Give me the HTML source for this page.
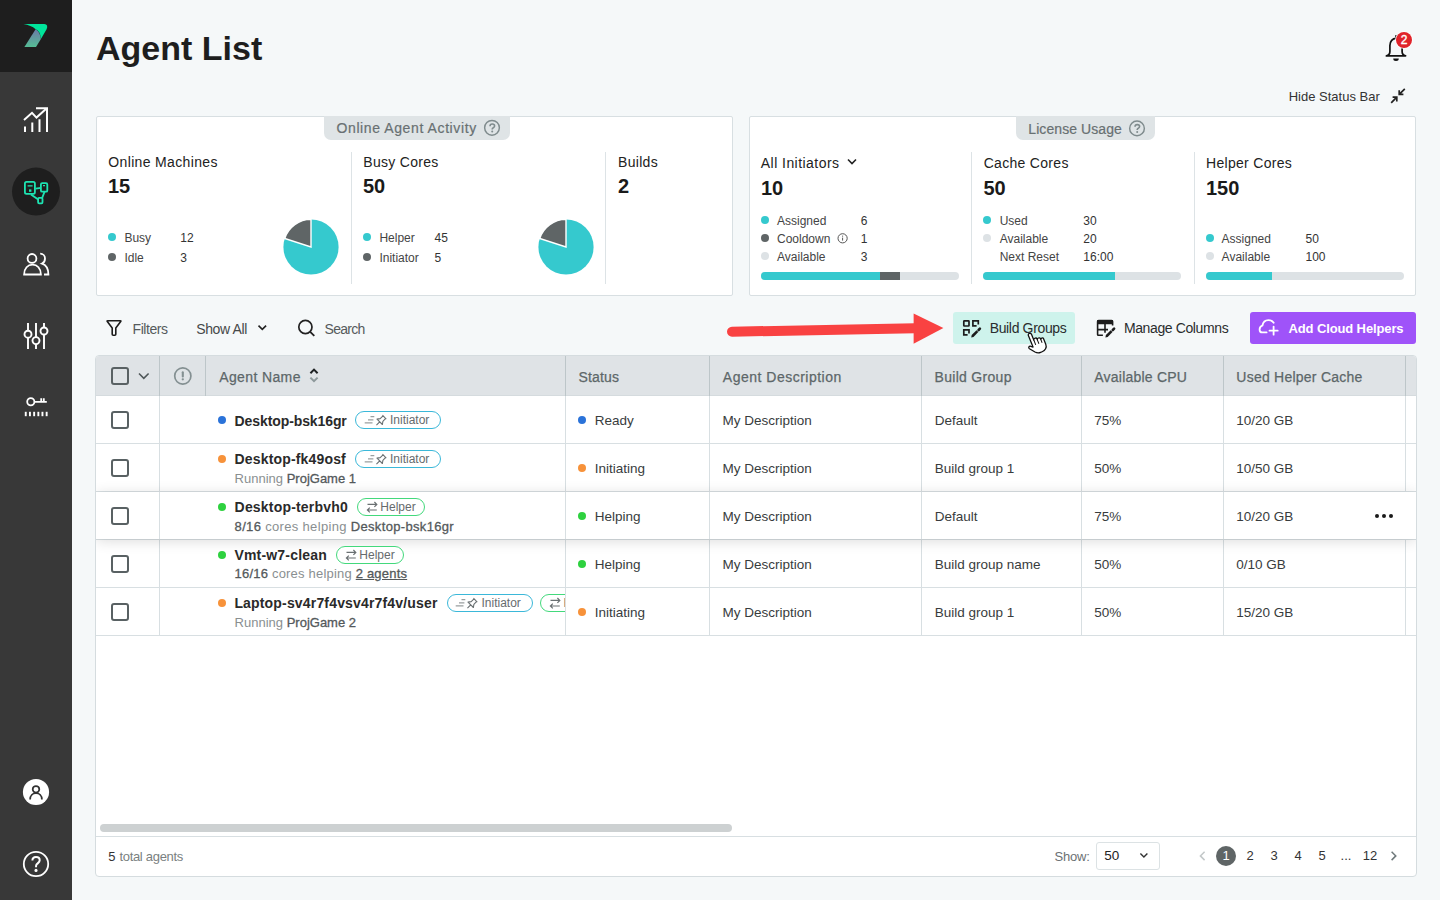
<!DOCTYPE html>
<html><head><meta charset="utf-8"><title>Agent List</title>
<style>
*{margin:0;padding:0;box-sizing:border-box}
html,body{width:1440px;height:900px;overflow:hidden}
body{background:#f5f8f9;font-family:"Liberation Sans",sans-serif;position:relative;color:#222}
.a{position:absolute}
.t{position:absolute;white-space:nowrap;line-height:1}
.card{position:absolute;background:#fff;border:1px solid #d8dfe2;border-radius:2px}
.tab{position:absolute;background:#dfe4e6;border-radius:0 0 7px 7px}
.vd{position:absolute;width:1px;background:#dde3e6}
.dot{position:absolute;width:8px;height:8px;border-radius:50%}
.bar{position:absolute;height:8px;border-radius:4px;background:#dde2e5;overflow:hidden}
.bar i{position:absolute;top:0;height:8px}
.cb{position:absolute;width:18px;height:18px;border:2px solid #596163;border-radius:3px}
.th{font-size:14px;color:#5d6769;-webkit-text-stroke:0.25px #5d6769;letter-spacing:0.15px}
.td{font-size:13.5px;color:#383c3d}
.nm{font-size:14px;font-weight:bold;color:#2a2a2a;letter-spacing:0.1px}
.sub{font-size:13px;color:#5c6264}
.sub .lt{color:#8a8f91}
.sub b{font-weight:normal;color:#54595b;-webkit-text-stroke:0.3px #54595b}
.bdg{position:absolute;height:18px;border-radius:9px;border:1px solid;display:flex;align-items:center;font-size:12px;color:#666b6d;white-space:nowrap;background:#fff}
.bdg.ini{border-color:#3bb8d9;padding-left:7.5px}
.bdg.hlp{border-color:#43d97c;padding-left:7.8px}
.bdg svg{flex:none}
.bdg span{margin-left:0.5px;line-height:1}
.pg{top:849.4px;width:20px;text-align:center;font-size:13px;color:#333}
</style></head>
<body>
<!-- SIDEBAR -->
<div class="a" style="left:0;top:0;width:72px;height:900px;background:#383838"></div>
<div class="a" style="left:0;top:0;width:72px;height:72px;background:#1e1e1e"></div>
<svg class="a" style="left:0;top:0" width="72" height="900" viewBox="0 0 72 900">
<defs><linearGradient id="lg" x1="0" y1="0" x2="0" y2="1"><stop offset="0" stop-color="#6d7aa8"/><stop offset="1" stop-color="#55bd95"/></linearGradient></defs>
<!-- logo -->
<path d="M35.6,29.2 Q40,31.5 40.9,39 L36,47 L24.4,47 Z" fill="url(#lg)"/>
<path d="M23.5,24 L44.3,24 Q48.6,24.6 46.6,29.2 L40.9,39 Q40.4,31 35.6,29.2 Q31,25.2 23.5,24 Z" fill="#00e59b"/>
<!-- chart -->
<g stroke="#fff" stroke-width="2" fill="none">
<path d="M25,126.5V132M32.3,122.5V132M39.5,119.3V132M47,107.6V132M36,108.2H48"/>
<path d="M24,120L32,112.8L36.5,117.6L46.5,108.6" stroke-linejoin="miter"/>
</g>
<!-- active circle -->
<circle cx="36" cy="191.6" r="24" fill="#1e1e1e"/>
<g stroke="#1de4b2" stroke-width="1.8" fill="none">
<rect x="24.9" y="181.9" width="10" height="12" rx="1.6"/>
<rect x="40.9" y="183.1" width="6.4" height="8.6" rx="1.3"/>
<rect x="38.1" y="197.9" width="4.4" height="5.4" rx="1"/>
<path d="M35.5,188.6L40.9,187.8M31,194.5L38.2,199.6M44.6,191.6L42.2,197.9"/>
<path d="M27.6,185.8H32.6M43,185.6H45" stroke-width="1.3"/>
</g>
<rect x="29" y="189.4" width="2.4" height="2.4" fill="#1de4b2"/>
<!-- users -->
<g stroke="#fff" stroke-width="1.8" fill="none">
<circle cx="32" cy="258.4" r="4.4"/>
<path d="M24.1,274.5C24.1,268.4 27.8,264.6 32.5,264.6C37.2,264.6 40.9,268.4 40.9,274.5Z"/>
<path d="M40.2,253.6C43,253.6 45,255.8 45,258.4C45,261 43.6,262.8 42,263.6C45.6,264.8 48.4,268.4 48.4,274.5H44"/>
</g>
<!-- sliders -->
<g stroke="#fff" stroke-width="1.9" fill="#383838">
<path d="M28,323V349M36,323V349M44,323V349"/>
<circle cx="28" cy="334.2" r="3.5"/>
<circle cx="36" cy="340.6" r="3.5"/>
<circle cx="44" cy="331" r="3.5"/>
</g>
<!-- key -->
<g stroke="#fff" stroke-width="1.8" fill="none">
<circle cx="30.8" cy="401.8" r="3.6"/>
<path d="M34.4,401.8H46.8M41.2,398.2V401.8M43.8,398.2V401.8"/>
</g>
<g fill="#fff">
<rect x="24.8" y="411.8" width="1.9" height="4.4"/><rect x="29" y="411.8" width="1.9" height="4.4"/><rect x="33.2" y="411.8" width="1.9" height="4.4"/>
<rect x="37.4" y="411.8" width="1.9" height="4.4"/><rect x="41.5" y="411.8" width="1.9" height="4.4"/><rect x="45.7" y="411.8" width="1.9" height="4.4"/>
</g>
<!-- user -->
<circle cx="36" cy="792" r="13.1" fill="#fff"/>
<g stroke="#333" stroke-width="1.75" fill="none">
<circle cx="36" cy="789.3" r="3.3"/>
<path d="M30.1,799.6C30.1,795.6 32.8,793.2 36,793.2C39.2,793.2 41.9,795.6 41.9,799.6"/>
</g>
<!-- help -->
<circle cx="36" cy="864" r="12.2" stroke="#fff" stroke-width="1.8" fill="none"/>
<path d="M32.4,860.6C32.4,858.4 34,857.1 36,857.1C38.1,857.1 39.7,858.4 39.7,860.3C39.7,862.4 37.6,863.2 36.6,864.4C36.1,865 36,865.8 36,867.2" stroke="#fff" stroke-width="2" fill="none"/>
<circle cx="36" cy="870.4" r="1.55" fill="#fff"/>
</svg>

<!-- HEADER -->
<div class="t" style="left:96px;top:31.4px;font-size:34px;font-weight:bold;color:#1e1e1e">Agent List</div>

<!-- STATUS CARDS -->
<div class="card" style="left:96px;top:116px;width:637px;height:180px"></div>
<div class="card" style="left:749px;top:116px;width:667px;height:180px"></div>
<!-- card 1 -->
<div class="tab" style="left:324px;top:116px;width:186px;height:24px"></div>
<div class="t" style="left:336.5px;top:121.4px;font-size:14px;color:#687072;-webkit-text-stroke:0.2px #687072;letter-spacing:0.6px">Online Agent Activity</div>
<svg class="a" style="left:482px;top:118px" width="20" height="20" viewBox="0 0 20 20"><g transform="translate(10.0,9.8)"><circle cx="0" cy="0" r="7.35" fill="none" stroke="#7f8b8d" stroke-width="1.45"/><path d="M-2,-1.6C-2,-3 -1,-3.8 0.3,-3.8C1.6,-3.8 2.6,-3 2.6,-1.8C2.6,-0.5 1.2,-0.1 0.5,0.6C0.2,1 0.2,1.3 0.2,1.6" fill="none" stroke="#7f8b8d" stroke-width="1.6"/><circle cx="0.2" cy="3.6" r="1" fill="#7f8b8d"/></g></svg>

<div class="t" style="left:108.3px;top:155.1px;font-size:14px;letter-spacing:0.35px">Online Machines</div>
<div class="t" style="left:108px;top:175.8px;font-size:20px;font-weight:bold;color:#1a1a1a">15</div>
<div class="dot" style="left:108px;top:233px;background:#35c9ce"></div>
<div class="t" style="left:124.4px;top:231.8px;font-size:12px;color:#444">Busy</div>
<div class="t" style="left:180.3px;top:231.8px;font-size:12px;color:#333">12</div>
<div class="dot" style="left:108px;top:253px;background:#5f6566"></div>
<div class="t" style="left:124.4px;top:251.8px;font-size:12px;color:#444">Idle</div>
<div class="t" style="left:180.3px;top:251.8px;font-size:12px;color:#333">3</div>
<svg class="a" style="left:281px;top:217px" width="60" height="60" viewBox="-30 -30 60 60"><circle r="27.6" fill="#35c9ce"/><path d="M0,0L0,-27.6A27.6,27.6 0 0 0 -26.25,-8.53Z" fill="#5f6566" stroke="#fff" stroke-width="1.4"/></svg>
<div class="vd" style="left:351px;top:152px;height:132px"></div>

<div class="t" style="left:363.3px;top:155.1px;font-size:14px;letter-spacing:0.3px">Busy Cores</div>
<div class="t" style="left:363px;top:176px;font-size:20px;font-weight:bold;color:#1a1a1a">50</div>
<div class="dot" style="left:363px;top:233px;background:#35c9ce"></div>
<div class="t" style="left:379.4px;top:231.8px;font-size:12px;color:#444">Helper</div>
<div class="t" style="left:434.6px;top:231.8px;font-size:12px;color:#333">45</div>
<div class="dot" style="left:363px;top:253px;background:#5f6566"></div>
<div class="t" style="left:379.4px;top:251.8px;font-size:12px;color:#444">Initiator</div>
<div class="t" style="left:434.6px;top:251.8px;font-size:12px;color:#333">5</div>
<svg class="a" style="left:536px;top:217px" width="60" height="60" viewBox="-30 -30 60 60"><circle r="27.6" fill="#35c9ce"/><path d="M0,0L0,-27.6A27.6,27.6 0 0 0 -26.25,-8.53Z" fill="#5f6566" stroke="#fff" stroke-width="1.4"/></svg>
<div class="vd" style="left:605px;top:152px;height:132px"></div>

<div class="t" style="left:618px;top:155.1px;font-size:14px;letter-spacing:0.3px">Builds</div>
<div class="t" style="left:618px;top:176px;font-size:20px;font-weight:bold;color:#1a1a1a">2</div>

<!-- card 2 -->
<div class="tab" style="left:1016px;top:116px;width:139px;height:24px"></div>
<div class="t" style="left:1028.3px;top:121.6px;font-size:14px;color:#687072;-webkit-text-stroke:0.2px #687072;letter-spacing:0.08px">License Usage</div>
<svg class="a" style="left:1127px;top:118px" width="20" height="20" viewBox="0 0 20 20"><g transform="translate(10.0,10.4)"><circle cx="0" cy="0" r="7.35" fill="none" stroke="#7f8b8d" stroke-width="1.45"/><path d="M-2,-1.6C-2,-3 -1,-3.8 0.3,-3.8C1.6,-3.8 2.6,-3 2.6,-1.8C2.6,-0.5 1.2,-0.1 0.5,0.6C0.2,1 0.2,1.3 0.2,1.6" fill="none" stroke="#7f8b8d" stroke-width="1.6"/><circle cx="0.2" cy="3.6" r="1" fill="#7f8b8d"/></g></svg>

<div class="t" style="left:760.8px;top:155.6px;font-size:14px;letter-spacing:0.45px">All Initiators</div>
<svg class="a" style="left:846px;top:157px" width="12" height="10" viewBox="0 0 12 10"><path d="M2,2.5L6,6.5L10,2.5" fill="none" stroke="#222" stroke-width="1.6"/></svg>
<div class="t" style="left:761px;top:177.8px;font-size:20px;font-weight:bold;color:#1a1a1a">10</div>
<div class="dot" style="left:761px;top:216px;background:#35c9ce"></div>
<div class="t" style="left:777px;top:215.1px;font-size:12px;color:#444">Assigned</div>
<div class="t" style="left:860.8px;top:215.1px;font-size:12px;color:#333">6</div>
<div class="dot" style="left:761px;top:234px;background:#5f6566"></div>
<div class="t" style="left:777px;top:233.1px;font-size:12px;color:#444">Cooldown</div>
<svg class="a" style="left:836px;top:232px" width="13" height="13" viewBox="0 0 13 13"><circle cx="6.6" cy="6.3" r="4.6" fill="none" stroke="#555" stroke-width="1"/><path d="M6.6,5.6V8.6" stroke="#555" stroke-width="1"/><circle cx="6.6" cy="4.1" r="0.6" fill="#555"/></svg>
<div class="t" style="left:860.8px;top:233.1px;font-size:12px;color:#333">1</div>
<div class="dot" style="left:761px;top:252px;background:#dde2e5"></div>
<div class="t" style="left:777px;top:251.1px;font-size:12px;color:#444">Available</div>
<div class="t" style="left:860.8px;top:251.1px;font-size:12px;color:#333">3</div>
<div class="bar" style="left:761px;top:272px;width:198px"><i style="left:0;width:119px;background:#35c9ce"></i><i style="left:119px;width:20px;background:#5f6566"></i></div>
<div class="vd" style="left:971px;top:152px;height:132px"></div>

<div class="t" style="left:983.7px;top:155.6px;font-size:14px;letter-spacing:0.3px">Cache Cores</div>
<div class="t" style="left:983.5px;top:177.8px;font-size:20px;font-weight:bold;color:#1a1a1a">50</div>
<div class="dot" style="left:983px;top:216px;background:#35c9ce"></div>
<div class="t" style="left:999.7px;top:215.1px;font-size:12px;color:#444">Used</div>
<div class="t" style="left:1083.3px;top:215.1px;font-size:12px;color:#333">30</div>
<div class="dot" style="left:983px;top:234px;background:#dde2e5"></div>
<div class="t" style="left:999.7px;top:233.1px;font-size:12px;color:#444">Available</div>
<div class="t" style="left:1083.3px;top:233.1px;font-size:12px;color:#333">20</div>
<div class="t" style="left:999.7px;top:251.1px;font-size:12px;color:#444">Next Reset</div>
<div class="t" style="left:1083.3px;top:251.1px;font-size:12px;color:#333">16:00</div>
<div class="bar" style="left:983px;top:272px;width:198px"><i style="left:0;width:132px;background:#35c9ce"></i></div>
<div class="vd" style="left:1194px;top:152px;height:132px"></div>

<div class="t" style="left:1206px;top:155.6px;font-size:14px;letter-spacing:0.3px">Helper Cores</div>
<div class="t" style="left:1206px;top:177.8px;font-size:20px;font-weight:bold;color:#1a1a1a">150</div>
<div class="dot" style="left:1205.5px;top:234px;background:#35c9ce"></div>
<div class="t" style="left:1221.6px;top:233.1px;font-size:12px;color:#444">Assigned</div>
<div class="t" style="left:1305.5px;top:233.1px;font-size:12px;color:#333">50</div>
<div class="dot" style="left:1205.5px;top:252px;background:#dde2e5"></div>
<div class="t" style="left:1221.6px;top:251.1px;font-size:12px;color:#444">Available</div>
<div class="t" style="left:1305.5px;top:251.1px;font-size:12px;color:#333">100</div>
<div class="bar" style="left:1206px;top:272px;width:198px"><i style="left:0;width:66px;background:#35c9ce"></i></div>

<!-- top right -->
<svg class="a" style="left:1380px;top:28px" width="40" height="40" viewBox="1380 28 40 40">
<path d="M1386.4,55.9Q1389.9,55.2 1389.9,51.6V45.6C1389.9,41.3 1392.6,38.4 1396,38.4C1399.4,38.4 1402.1,41.3 1402.1,45.6V51.6Q1402.1,55.2 1405.6,55.9Z" fill="none" stroke="#111" stroke-width="1.7" stroke-linejoin="round"/>
<path d="M1396,38.6V35.2" stroke="#111" stroke-width="1.8"/>
<path d="M1393.2,58.6H1398.8A2.8,2.5 0 0 1 1393.2,58.6Z" fill="#111"/>
<circle cx="1404" cy="40" r="8.8" fill="#fff"/>
<circle cx="1404" cy="40" r="8" fill="#e0232a"/>
<text x="1404" y="44.3" font-size="12" text-anchor="middle" fill="#fff" stroke="#fff" stroke-width="0.35" font-family="Liberation Sans">2</text>
</svg>
<div class="t" style="left:1288.7px;top:90px;font-size:13px;color:#333">Hide Status Bar</div>
<svg class="a" style="left:1388px;top:86px" width="20" height="20" viewBox="0 0 20 20"><g fill="none" stroke="#222" stroke-width="1.7"><path d="M16.8,2.8L11.2,8.4M11.2,4.2V8.4H15.4"/><path d="M3.2,16.8L8.8,11.2M4.6,11.2H8.8V15.4"/></g></svg>

<!-- TOOLBAR -->
<svg class="a" style="left:104px;top:318px" width="20" height="20" viewBox="104 318 20 20"><path d="M107.7,320.7H120.3Q121.3,320.7 120.7,321.6L115.8,328.1V334.3Q115.8,335.3 114.8,335.3H113.2Q112.2,335.3 112.2,334.3V328.1L107.3,321.6Q106.7,320.7 107.7,320.7Z" fill="none" stroke="#1c1c1c" stroke-width="1.6" stroke-linejoin="round"/></svg>
<div class="t" style="left:132.6px;top:321.5px;font-size:14px;color:#555b5d;letter-spacing:-0.45px">Filters</div>
<div class="t" style="left:196.2px;top:321.5px;font-size:14px;color:#45494a;letter-spacing:-0.35px">Show All</div>
<svg class="a" style="left:256px;top:322px" width="12" height="10" viewBox="0 0 12 10"><path d="M2.5,3.6L6.3,7.4L10.1,3.6" fill="none" stroke="#222" stroke-width="1.6"/></svg>
<svg class="a" style="left:296px;top:318px" width="20" height="20" viewBox="296 318 20 20"><circle cx="305.4" cy="327" r="6.6" fill="none" stroke="#222" stroke-width="1.7"/><path d="M310.2,331.8L314.3,335.9" stroke="#222" stroke-width="1.8"/></svg>
<div class="t" style="left:324.6px;top:321.5px;font-size:14px;color:#555b5d;letter-spacing:-0.75px">Search</div>

<!-- red arrow -->
<svg class="a" style="left:720px;top:305px" width="230" height="45" viewBox="720 305 230 45">
<path d="M732,331.7L915,328.3" stroke="#f94242" stroke-width="10" stroke-linecap="round" fill="none"/>
<path d="M913.6,313.6L943.4,328.1L913.6,343.7Z" fill="#f94242"/>
</svg>

<!-- Build groups -->
<div class="a" style="left:953px;top:312px;width:122px;height:32px;background:#cef3ec;border-radius:3px"></div>
<svg class="a" style="left:960px;top:317px" width="24" height="24" viewBox="960 317 24 24"><g fill="none" stroke="#1c1c1c" stroke-width="1.7">
<rect x="963.8" y="320.8" width="5.2" height="5.2" rx="0.6"/>
<path d="M976.6,325.9H972.9V320.8H978.3V324.6"/>
<path d="M967.6,334.9H963.8V329.9H969V333.6"/>
</g><path d="M971.2,337.5L971.7,335.1L976.5,330.3L978.3,332.1L973.5,336.9Z" fill="#1c1c1c"/><path d="M978.6,330.0L979.9,328.7" stroke="#1c1c1c" stroke-width="2.6" stroke-linecap="round"/></svg>
<div class="t" style="left:989.7px;top:321px;font-size:14px;color:#2a2d2e;letter-spacing:-0.35px">Build Groups</div>
<!-- hand cursor -->
<svg class="a" style="left:1020px;top:325px" width="35" height="32" viewBox="1020 325 35 32">
<g transform="translate(1029.3,333.4) rotate(-22) scale(1.12)">
<path d="M-1.5,1.5C-1.5,-0.5 1.5,-0.5 1.5,1.5L1.5,7C1.5,5.5 4.5,5.5 4.5,7L4.5,8C4.5,6.5 7.5,6.5 7.5,8L7.5,9C7.5,7.8 10,7.8 10,9L10,14.5C10,17.5 7.5,19.5 4.5,19.5L3,19.5C1,19.5 -0.5,18.5 -1.5,17.3L-5,12.8C-6,11.4 -4.2,10 -3,11.2L-1.5,12.6Z" fill="#fff" stroke="#111" stroke-width="1.15" stroke-linejoin="round"/>
<path d="M1.5,7V11.6M4.5,8V11.8M7.5,9V12" stroke="#111" stroke-width="0.9" fill="none"/>
</g></svg>

<!-- Manage columns -->
<svg class="a" style="left:1094px;top:317px" width="24" height="24" viewBox="1094 317 24 24">
<path d="M1102.9,335.3H1098.4Q1097.6,335.3 1097.6,334.5V321.6Q1097.6,320.6 1098.6,320.6H1111.6Q1112.6,320.6 1112.6,321.6V325.6" fill="none" stroke="#1c1c1c" stroke-width="1.6"/>
<rect x="1097" y="320" width="16" height="4.3" rx="0.8" fill="#1c1c1c"/>
<path d="M1097.6,329.6H1108M1105,324V332.8" stroke="#1c1c1c" stroke-width="1.6"/>
<path d="M1105.4,337.5L1105.9,335.1L1110.7,330.3L1112.5,332.1L1107.7,336.9Z" fill="#1c1c1c"/><path d="M1112.8,330.0L1114.1,328.7" stroke="#1c1c1c" stroke-width="2.6" stroke-linecap="round"/>
</svg>
<div class="t" style="left:1123.9px;top:321px;font-size:14px;color:#2a2d2e;letter-spacing:-0.38px">Manage Columns</div>

<!-- Add cloud helpers -->
<div class="a" style="left:1250px;top:312px;width:166px;height:32px;background:#9f53f9;border-radius:3px"></div>
<svg class="a" style="left:1256px;top:316px" width="26" height="24" viewBox="1256 316 26 24"><g fill="none" stroke="#fff" stroke-width="1.8" stroke-linecap="round">
<path d="M1266.6,332.4H1262.2C1260.6,332.4 1259.6,331 1259.6,329.4C1259.6,327.6 1260.8,326.2 1262.5,325.4C1263,322.2 1265.4,320.1 1268.4,320.1C1270.7,320.1 1272.6,321.2 1273.7,322.8"/>
<path d="M1273.6,326.6V334.7M1269.5,330.7H1277.7"/></g></svg>
<div class="t" style="left:1288.5px;top:321.5px;font-size:13px;font-weight:bold;color:#fff;letter-spacing:-0.12px">Add Cloud Helpers</div>

<!-- TABLE -->
<div class="a" style="left:95px;top:355px;width:1322px;height:522px;background:#fff;border:1px solid #d5dcdf;border-radius:4px"></div>
<div class="a" style="left:96px;top:356px;width:1320px;height:40px;background:#dfe3e6;border-radius:3px 3px 0 0;border-bottom:1px solid #d5dbde"></div>
<!-- header dividers -->
<div class="a" style="left:159px;top:356px;width:1px;height:40px;background:#bdc6c9"></div>
<div class="a" style="left:205px;top:356px;width:1px;height:40px;background:#bdc6c9"></div>
<div class="a" style="left:565px;top:356px;width:1px;height:40px;background:#bdc6c9"></div>
<div class="a" style="left:709px;top:356px;width:1px;height:40px;background:#bdc6c9"></div>
<div class="a" style="left:921px;top:356px;width:1px;height:40px;background:#bdc6c9"></div>
<div class="a" style="left:1081px;top:356px;width:1px;height:40px;background:#bdc6c9"></div>
<div class="a" style="left:1223px;top:356px;width:1px;height:40px;background:#bdc6c9"></div>
<div class="a" style="left:1405px;top:356px;width:1px;height:40px;background:#bdc6c9"></div>
<!-- body dividers -->
<div class="a" style="left:159px;top:396px;width:1px;height:240px;background:#d8dfe2"></div>
<div class="a" style="left:565px;top:396px;width:1px;height:240px;background:#d8dfe2"></div>
<div class="a" style="left:709px;top:396px;width:1px;height:240px;background:#d8dfe2"></div>
<div class="a" style="left:921px;top:396px;width:1px;height:240px;background:#d8dfe2"></div>
<div class="a" style="left:1081px;top:396px;width:1px;height:240px;background:#d8dfe2"></div>
<div class="a" style="left:1223px;top:396px;width:1px;height:240px;background:#d8dfe2"></div>
<div class="a" style="left:1405px;top:396px;width:1px;height:240px;background:#d8dfe2"></div>
<!-- row lines -->
<div class="a" style="left:96px;top:443px;width:1320px;height:1px;background:#d8dfe2"></div>
<div class="a" style="left:96px;top:491px;width:1320px;height:1px;background:#d8dfe2"></div>
<div class="a" style="left:96px;top:539px;width:1320px;height:1px;background:#d8dfe2"></div>
<div class="a" style="left:96px;top:587px;width:1320px;height:1px;background:#d8dfe2"></div>
<div class="a" style="left:96px;top:635px;width:1320px;height:1px;background:#d8dfe2"></div>
<!-- hovered row 3 -->
<div class="a" style="left:96px;top:396px;width:1320px;height:240px;overflow:hidden"><div class="a" style="left:0;top:96px;width:1320px;height:47px;background:#fff;box-shadow:0 2px 13px rgba(0,0,0,0.14)"></div></div>
<div class="a" style="left:159px;top:492px;width:1px;height:47px;background:#d8dfe2"></div>
<div class="a" style="left:565px;top:492px;width:1px;height:47px;background:#d8dfe2"></div>
<div class="a" style="left:709px;top:492px;width:1px;height:47px;background:#d8dfe2"></div>
<div class="a" style="left:921px;top:492px;width:1px;height:47px;background:#d8dfe2"></div>
<div class="a" style="left:1081px;top:492px;width:1px;height:47px;background:#d8dfe2"></div>
<div class="a" style="left:1223px;top:492px;width:1px;height:47px;background:#d8dfe2"></div>

<!-- header content -->
<div class="cb" style="left:111px;top:367px"></div>
<svg class="a" style="left:137px;top:370px" width="14" height="12" viewBox="0 0 14 12"><path d="M2,3.5L6.8,8.3L11.6,3.5" fill="none" stroke="#4f5759" stroke-width="1.6"/></svg>
<svg class="a" style="left:173px;top:366px" width="20" height="20" viewBox="0 0 20 20"><circle cx="9.8" cy="10" r="8.1" fill="none" stroke="#849092" stroke-width="1.7"/><path d="M9.8,6.3V10.5" stroke="#849092" stroke-width="2.1" stroke-linecap="round"/><circle cx="9.8" cy="13.3" r="1.15" fill="#849092"/></svg>
<div class="t th" style="left:219.2px;top:369.5px;letter-spacing:0.38px">Agent Name</div>
<svg class="a" style="left:307px;top:366px" width="14" height="18" viewBox="0 0 14 18"><path d="M3.4,7.2L7,3.6L10.6,7.2" fill="none" stroke="#1e2223" stroke-width="2"/><path d="M3.4,11.6L7,15.2L10.6,11.6" fill="none" stroke="#8d999b" stroke-width="2"/></svg>
<div class="t th" style="left:578.5px;top:369.5px;letter-spacing:0.15px">Status</div>
<div class="t th" style="left:722.8px;top:369.5px;letter-spacing:0.5px">Agent Description</div>
<div class="t th" style="left:934.5px;top:369.5px;letter-spacing:0.3px">Build Group</div>
<div class="t th" style="left:1094.3px;top:369.5px;letter-spacing:0.22px">Available CPU</div>
<div class="t th" style="left:1236.3px;top:369.5px;letter-spacing:0.24px">Used Helper Cache</div>

<!-- rows: checkboxes -->
<div class="cb" style="left:111px;top:411px"></div>
<div class="cb" style="left:111px;top:459px"></div>
<div class="cb" style="left:111px;top:507px"></div>
<div class="cb" style="left:111px;top:555px"></div>
<div class="cb" style="left:111px;top:603px"></div>

<!-- row 1 -->
<div class="dot" style="left:218px;top:416px;background:#2b73d9"></div>
<div class="t nm" style="left:234.6px;top:414px;letter-spacing:-0.1px">Desktop-bsk16gr</div>
<div class="bdg ini" style="left:355px;top:411px;width:86px"><svg width="26" height="14" viewBox="0 0 26 14"><g stroke="#9a9fa0" stroke-width="1.3" fill="none"><path d="M6.5,3.7H10.3M4,6.8H9.4M0.7,9.9H8.5"/></g><g transform="translate(16.4,8.1) rotate(45)" stroke="#6a7072" stroke-width="1.1" fill="none" stroke-linejoin="round"><path d="M-2.7,-5.6H2.7M-1.9,-5.6V-1.6L-3.8,1H3.8L1.9,-1.6V-5.6M0,1V5.6"/></g></svg><span>Initiator</span></div>
<div class="dot" style="left:578px;top:416px;background:#2b73d9"></div>
<div class="t td" style="left:594.7px;top:413.6px">Ready</div>
<div class="t td" style="left:722.5px;top:413.6px">My Description</div>
<div class="t td" style="left:934.8px;top:413.6px">Default</div>
<div class="t td" style="left:1094.3px;top:413.6px">75%</div>
<div class="t td" style="left:1236.3px;top:413.6px">10/20 GB</div>

<!-- row 2 -->
<div class="dot" style="left:218px;top:455px;background:#f7923a"></div>
<div class="t nm" style="left:234.6px;top:452.3px;letter-spacing:0.16px">Desktop-fk49osf</div>
<div class="bdg ini" style="left:355px;top:450px;width:86px"><svg width="26" height="14" viewBox="0 0 26 14"><g stroke="#9a9fa0" stroke-width="1.3" fill="none"><path d="M6.5,3.7H10.3M4,6.8H9.4M0.7,9.9H8.5"/></g><g transform="translate(16.4,8.1) rotate(45)" stroke="#6a7072" stroke-width="1.1" fill="none" stroke-linejoin="round"><path d="M-2.7,-5.6H2.7M-1.9,-5.6V-1.6L-3.8,1H3.8L1.9,-1.6V-5.6M0,1V5.6"/></g></svg><span>Initiator</span></div>
<div class="t sub" style="left:234.6px;top:471.8px"><span class="lt">Running</span> <b>ProjGame 1</b></div>
<div class="dot" style="left:578px;top:464px;background:#f7923a"></div>
<div class="t td" style="left:594.7px;top:461.6px">Initiating</div>
<div class="t td" style="left:722.5px;top:461.6px">My Description</div>
<div class="t td" style="left:934.8px;top:461.6px">Build group 1</div>
<div class="t td" style="left:1094.3px;top:461.6px">50%</div>
<div class="t td" style="left:1236.3px;top:461.6px">10/50 GB</div>

<!-- row 3 -->
<div class="dot" style="left:218px;top:503px;background:#2ed13f"></div>
<div class="t nm" style="left:234.6px;top:500.3px;letter-spacing:0.19px">Desktop-terbvh0</div>
<div class="bdg hlp" style="left:357px;top:498px;width:68px"><svg width="14" height="14" viewBox="0 0 14 14"><g stroke="#6a7072" stroke-width="1.2" fill="none"><path d="M1.5,4.4H10.8M8.4,2L10.8,4.4L8.4,6.8"/><path d="M10.8,10H1.4M3.8,7.6L1.4,10L3.8,12.4"/></g></svg><span>Helper</span></div>
<div class="t sub" style="left:234.6px;top:519.6px;letter-spacing:0.33px"><b>8/16</b> <span class="lt">cores helping</span> <b>Desktop-bsk16gr</b></div>
<div class="dot" style="left:578px;top:512px;background:#2ed13f"></div>
<div class="t td" style="left:594.7px;top:509.6px">Helping</div>
<div class="t td" style="left:722.5px;top:509.6px">My Description</div>
<div class="t td" style="left:934.8px;top:509.6px">Default</div>
<div class="t td" style="left:1094.3px;top:509.6px">75%</div>
<div class="t td" style="left:1236.3px;top:509.6px">10/20 GB</div>
<div class="a" style="left:1375px;top:514px;width:4px;height:4px;border-radius:50%;background:#1a1a1a"></div>
<div class="a" style="left:1382px;top:514px;width:4px;height:4px;border-radius:50%;background:#1a1a1a"></div>
<div class="a" style="left:1389px;top:514px;width:4px;height:4px;border-radius:50%;background:#1a1a1a"></div>

<!-- row 4 -->
<div class="dot" style="left:218px;top:551px;background:#2ed13f"></div>
<div class="t nm" style="left:234.4px;top:548.3px;letter-spacing:0.19px">Vmt-w7-clean</div>
<div class="bdg hlp" style="left:336px;top:546px;width:68px"><svg width="14" height="14" viewBox="0 0 14 14"><g stroke="#6a7072" stroke-width="1.2" fill="none"><path d="M1.5,4.4H10.8M8.4,2L10.8,4.4L8.4,6.8"/><path d="M10.8,10H1.4M3.8,7.6L1.4,10L3.8,12.4"/></g></svg><span>Helper</span></div>
<div class="t sub" style="left:234.6px;top:567.2px;letter-spacing:0.2px"><b>16/16</b> <span class="lt">cores helping</span> <b style="text-decoration:underline">2 agents</b></div>
<div class="dot" style="left:578px;top:560px;background:#2ed13f"></div>
<div class="t td" style="left:594.7px;top:557.6px">Helping</div>
<div class="t td" style="left:722.5px;top:557.6px">My Description</div>
<div class="t td" style="left:934.8px;top:557.6px">Build group name</div>
<div class="t td" style="left:1094.3px;top:557.6px">50%</div>
<div class="t td" style="left:1236.3px;top:557.6px">0/10 GB</div>

<!-- row 5 -->
<div class="dot" style="left:218px;top:599px;background:#f7923a"></div>
<div class="t nm" style="left:234.4px;top:596.3px;letter-spacing:0.17px">Laptop-sv4r7f4vsv4r7f4v/user</div>
<div class="a" style="left:440px;top:590px;width:125px;height:40px;overflow:hidden">
<div class="bdg ini" style="left:6.5px;top:4px;width:86px"><svg width="26" height="14" viewBox="0 0 26 14"><g stroke="#9a9fa0" stroke-width="1.3" fill="none"><path d="M6.5,3.7H10.3M4,6.8H9.4M0.7,9.9H8.5"/></g><g transform="translate(16.4,8.1) rotate(45)" stroke="#6a7072" stroke-width="1.1" fill="none" stroke-linejoin="round"><path d="M-2.7,-5.6H2.7M-1.9,-5.6V-1.6L-3.8,1H3.8L1.9,-1.6V-5.6M0,1V5.6"/></g></svg><span>Initiator</span></div>
<div class="bdg hlp" style="left:100.3px;top:4px;width:68px"><svg width="14" height="14" viewBox="0 0 14 14"><g stroke="#6a7072" stroke-width="1.2" fill="none"><path d="M1.5,4.4H10.8M8.4,2L10.8,4.4L8.4,6.8"/><path d="M10.8,10H1.4M3.8,7.6L1.4,10L3.8,12.4"/></g></svg><span>Helper</span></div>
</div>
<div class="t sub" style="left:234.6px;top:615.6px"><span class="lt">Running</span> <b>ProjGame 2</b></div>
<div class="dot" style="left:578px;top:608px;background:#f7923a"></div>
<div class="t td" style="left:594.7px;top:605.6px">Initiating</div>
<div class="t td" style="left:722.5px;top:605.6px">My Description</div>
<div class="t td" style="left:934.8px;top:605.6px">Build group 1</div>
<div class="t td" style="left:1094.3px;top:605.6px">50%</div>
<div class="t td" style="left:1236.3px;top:605.6px">15/20 GB</div>

<!-- scrollbar + footer -->
<div class="a" style="left:100px;top:824px;width:632px;height:8px;border-radius:4px;background:#cdd1d2"></div>
<div class="a" style="left:96px;top:836px;width:1320px;height:1px;background:#d8dfe2"></div>
<div class="t" style="left:108.3px;top:849.5px;font-size:13px;color:#333">5</div>
<div class="t" style="left:119.4px;top:849.5px;font-size:13px;color:#7a7f81;letter-spacing:-0.3px">total agents</div>
<div class="t" style="left:1054.6px;top:849.7px;font-size:13px;color:#6b7173;letter-spacing:-0.2px">Show:</div>
<div class="a" style="left:1096px;top:842px;width:64px;height:28px;border:1px solid #dce2e4;border-radius:3px;background:#fff"></div>
<div class="t" style="left:1104.2px;top:849.2px;font-size:13.5px;color:#222">50</div>
<svg class="a" style="left:1138px;top:850px" width="12" height="10" viewBox="0 0 12 10"><path d="M2.4,3.6L5.9,7.1L9.4,3.6" fill="none" stroke="#333" stroke-width="1.4"/></svg>
<svg class="a" style="left:1196px;top:849px" width="12" height="14" viewBox="0 0 12 14"><path d="M8.6,2.7L4.4,6.9L8.6,11.1" fill="none" stroke="#c3c8c9" stroke-width="1.5"/></svg>
<div class="a" style="left:1216px;top:846px;width:20px;height:20px;border-radius:50%;background:#5f6566"></div>
<div class="t" style="left:1216px;top:849.4px;width:20px;text-align:center;font-size:13px;color:#fff">1</div>
<div class="t pg" style="left:1240px">2</div>
<div class="t pg" style="left:1264px">3</div>
<div class="t pg" style="left:1288px">4</div>
<div class="t pg" style="left:1312px">5</div>
<div class="t pg" style="left:1336px">...</div>
<div class="t pg" style="left:1360px">12</div>
<svg class="a" style="left:1388px;top:849px" width="12" height="14" viewBox="0 0 12 14"><path d="M3.6,2.7L7.8,6.9L3.6,11.1" fill="none" stroke="#6f797b" stroke-width="1.5"/></svg>

</body></html>
